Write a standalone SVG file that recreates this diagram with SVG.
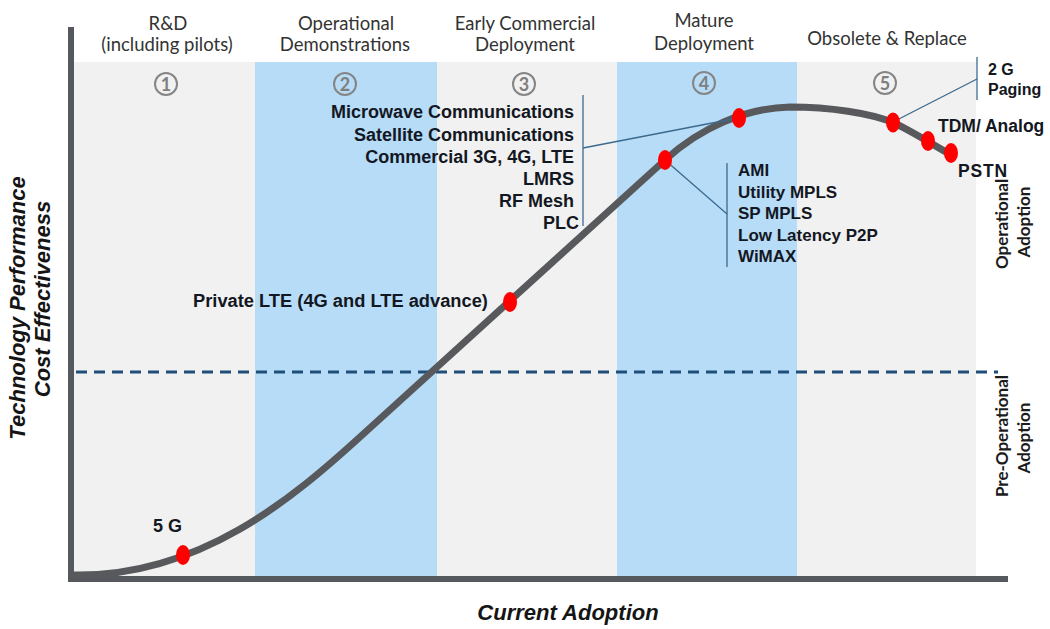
<svg xmlns="http://www.w3.org/2000/svg" width="1050" height="629" viewBox="0 0 1050 629">
  <defs>
    <style>
      .band-gray { fill: #f1f1f1; }
      .band-blue { fill: #b6dcf8; }
      .phase { font-family: Lato, "Liberation Sans", sans-serif; font-size: 18.5px; fill: #333; text-anchor: middle; }
      .num-ring { fill: none; stroke: #858585; stroke-width: 2; }
      .num { font-family: Lato, "Liberation Sans", sans-serif; font-size: 18px; font-weight: bold; fill: #7f7f7f; text-anchor: middle; }
      .axis { stroke: #55585d; stroke-width: 6; fill: none; }
      .curve { stroke: #58595c; stroke-width: 7; fill: none; stroke-linecap: round; }
      .threshold { stroke: #1f4e79; stroke-width: 3; stroke-dasharray: 11 7; fill: none; }
      .callout { stroke: #3b6a8e; stroke-width: 1.3; fill: none; }
      .dot { fill: #ff0000; }
      .lbl { font-family: "Liberation Sans", Arial, sans-serif; font-weight: bold; fill: #131722; }
      .axis-title { font-family: "Liberation Sans", Arial, sans-serif; font-weight: bold; font-style: italic; font-size: 22px; fill: #151515; text-anchor: middle; }
      .side { font-family: Lato, "Liberation Sans", sans-serif; font-weight: bold; font-size: 17px; fill: #1c1c1c; text-anchor: middle; }
    </style>
  </defs>

  <rect x="0" y="0" width="1050" height="629" fill="#ffffff"/>

  <!-- phase bands -->
  <g id="bands">
    <rect class="band-gray" x="74" y="62" width="181" height="514"/>
    <rect class="band-blue" x="255" y="62" width="182" height="514"/>
    <rect class="band-gray" x="437" y="62" width="180" height="514"/>
    <rect class="band-blue" x="617" y="62" width="180" height="514"/>
    <rect class="band-gray" x="797" y="62" width="179" height="514"/>
  </g>

  <!-- phase headings -->
  <g id="phase-1">
    <text class="phase" x="168" y="30">R&amp;D</text>
    <text class="phase" x="167" y="51">(including pilots)</text>
    <circle class="num-ring" cx="166" cy="84" r="11"/>
    <text class="num" x="166" y="90.5">1</text>
  </g>
  <g id="phase-2">
    <text class="phase" x="346" y="30">Operational</text>
    <text class="phase" x="345" y="51">Demonstrations</text>
    <circle class="num-ring" cx="345" cy="84" r="11"/>
    <text class="num" x="345" y="90.5">2</text>
  </g>
  <g id="phase-3">
    <text class="phase" x="525" y="30">Early Commercial</text>
    <text class="phase" x="525" y="51">Deployment</text>
    <circle class="num-ring" cx="524" cy="84" r="11"/>
    <text class="num" x="524" y="90.5">3</text>
  </g>
  <g id="phase-4">
    <text class="phase" x="704" y="27">Mature</text>
    <text class="phase" x="704" y="50">Deployment</text>
    <circle class="num-ring" cx="704" cy="83" r="11"/>
    <text class="num" x="704" y="89.5">4</text>
  </g>
  <g id="phase-5">
    <text class="phase" x="887" y="45">Obsolete &amp; Replace</text>
    <circle class="num-ring" cx="885" cy="83" r="11"/>
    <text class="num" x="885" y="89.5">5</text>
  </g>

  <!-- axes -->
  <g id="axes">
    <line class="axis" x1="71" y1="27" x2="71" y2="581"/>
    <line class="axis" x1="68" y1="579" x2="1008" y2="579"/>
  </g>

  <!-- operational threshold -->
  <line id="threshold" class="threshold" x1="76" y1="372" x2="998" y2="372"/>

  <!-- adoption curve -->
  <path id="adoption-curve" class="curve" d="M72,575 C200,578 295,496 360,437 L665,160 C700,128 745,108 790,107 C830,107 870,113 893,122.5 C910,130 935,146 953,156"/>

  <!-- callout connectors -->
  <g id="connectors">
    <line class="callout" x1="583" y1="95" x2="583" y2="226"/>
    <line class="callout" x1="583" y1="148" x2="738" y2="118"/>
    <line class="callout" x1="727" y1="163" x2="727" y2="267"/>
    <line class="callout" x1="665" y1="160" x2="727" y2="214"/>
    <line class="callout" x1="977" y1="57" x2="977" y2="100"/>
    <line class="callout" x1="893" y1="122" x2="977" y2="79"/>
  </g>

  <!-- technology markers -->
  <g id="tech-5g">
    <ellipse class="dot" cx="183" cy="555" rx="7" ry="10"/>
    <text class="lbl" x="153" y="532" font-size="18">5 G</text>
  </g>
  <g id="tech-private-lte">
    <ellipse class="dot" cx="510" cy="302" rx="7" ry="10"/>
    <text class="lbl" x="193" y="307" font-size="18.3">Private LTE (4G and LTE advance)</text>
  </g>
  <g id="tech-mature">
    <ellipse class="dot" cx="665" cy="160" rx="7" ry="10"/>
    <text class="lbl" font-size="17">
      <tspan x="738" y="176">AMI</tspan>
      <tspan x="738" y="197.5">Utility MPLS</tspan>
      <tspan x="738" y="219">SP MPLS</tspan>
      <tspan x="738" y="240.5">Low Latency P2P</tspan>
      <tspan x="738" y="262">WiMAX</tspan>
    </text>
  </g>
  <g id="tech-commercial">
    <ellipse class="dot" cx="739" cy="118" rx="7" ry="10"/>
    <text class="lbl" font-size="18" text-anchor="end">
      <tspan x="579" y="118">Microwave Communications</tspan>
      <tspan x="579" y="141">Satellite Communications</tspan>
      <tspan x="579" y="163">Commercial 3G, 4G, LTE</tspan>
      <tspan x="579" y="185">LMRS</tspan>
      <tspan x="579" y="207">RF Mesh</tspan>
      <tspan x="579" y="229">PLC</tspan>
    </text>
  </g>
  <g id="tech-2g-paging">
    <ellipse class="dot" cx="893" cy="122.5" rx="7" ry="10"/>
    <text class="lbl" x="988" y="75" font-size="16">2 G</text>
    <text class="lbl" x="988" y="95" font-size="16">Paging</text>
  </g>
  <g id="tech-tdm">
    <ellipse class="dot" cx="928" cy="141" rx="7" ry="10"/>
    <text class="lbl" x="938" y="132" font-size="17.5">TDM/ Analog</text>
  </g>
  <g id="tech-pstn">
    <ellipse class="dot" cx="951" cy="153" rx="7" ry="10"/>
    <text class="lbl" x="958" y="177" font-size="17.5" letter-spacing="0.8">PSTN</text>
  </g>

  <!-- axis titles -->
  <g id="y-title">
    <text class="axis-title" transform="translate(25,308) rotate(-90)">Technology Performance</text>
    <text class="axis-title" transform="translate(50,299) rotate(-90)">Cost Effectiveness</text>
  </g>
  <text id="x-title" class="axis-title" x="568" y="620">Current Adoption</text>

  <!-- adoption zones -->
  <g id="zone-operational">
    <text class="side" transform="translate(1008,224) rotate(-90)">Operational</text>
    <text class="side" transform="translate(1030,222) rotate(-90)">Adoption</text>
  </g>
  <g id="zone-pre-operational">
    <text class="side" transform="translate(1008,436) rotate(-90)">Pre-Operational</text>
    <text class="side" transform="translate(1030,438) rotate(-90)">Adoption</text>
  </g>
</svg>
